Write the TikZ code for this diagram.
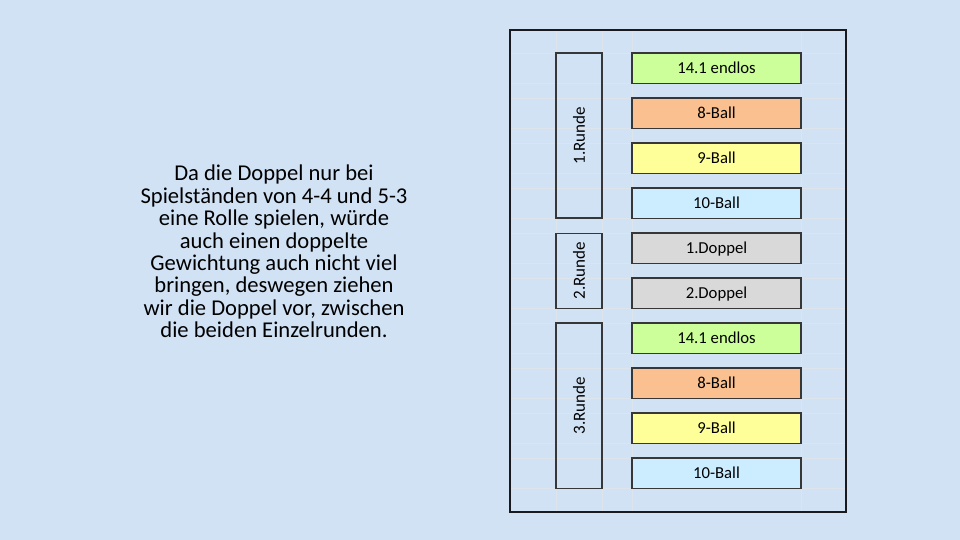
\documentclass[tikz,border=0pt]{standalone}
\usepackage{fontspec}
\setmainfont{Carlito}
\definecolor{bgblue}{RGB}{209,226,245}
\definecolor{gridc}{RGB}{221,228,236}
\definecolor{framec}{RGB}{25,25,30}
\definecolor{edgec}{RGB}{55,55,55}
\definecolor{cgreen}{RGB}{204,255,153}
\definecolor{corange}{RGB}{250,192,144}
\definecolor{cyellow}{RGB}{255,255,153}
\definecolor{clblue}{RGB}{204,236,255}
\definecolor{cgrey}{RGB}{217,217,217}
\tikzset{
  gamebox/.style={draw=edgec, line width=1.3pt, minimum width=169pt, minimum height=30.5pt, inner sep=0pt, text height=10.2pt, text depth=0pt, font=\fontsize{16.7}{20}\selectfont},
  rundebox/.style={draw=edgec, line width=1.3pt, minimum width=46pt, inner sep=0pt, font=\fontsize{17}{20}\selectfont},
  gridline/.style={draw=gridc, line width=0.8pt}
}
\begin{document}
\begin{tikzpicture}[x=1pt,y=-1pt]
\fill[bgblue] (0,0) rectangle (960,540);
\useasboundingbox (0,0) rectangle (960,540);
% faint cell grid inside the frame
\foreach \yy in {53,83.5,98,128.5,143,173.5,188,218.5,233,263.5,278,308.5,323,353.5,368,398.5,413,443.5,458,488.5}
  \draw[gridline] (511,\yy) -- (845,\yy);
\foreach \xx in {556,602,632,801}
  \draw[gridline] (\xx,31) -- (\xx,511);
% outer frame
\node[draw=framec, line width=2pt, minimum width=336pt, minimum height=482pt, inner sep=0pt] (frame) at (678,271) {};
% Runde boxes
\node[rundebox, minimum height=165pt] (r1) at (579,135.5) {\rotatebox{90}{1.Runde}};
\node[rundebox, minimum height=75pt] (r2) at (579,270.75) {\rotatebox{90}{2.Runde}};
\node[rundebox, minimum height=165.5pt] (r3) at (579,405.75) {\rotatebox{90}{3.Runde}};
% game boxes
\node[gamebox, fill=cgreen]  (g1)  at (716.5,68.25)  {14.1 endlos};
\node[gamebox, fill=corange] (g2)  at (716.5,113.25) {8-Ball};
\node[gamebox, fill=cyellow] (g3)  at (716.5,158.25) {9-Ball};
\node[gamebox, fill=clblue]  (g4)  at (716.5,203.25) {10-Ball};
\node[gamebox, fill=cgrey]   (g5)  at (716.5,248.25) {1.Doppel};
\node[gamebox, fill=cgrey]   (g6)  at (716.5,293.25) {2.Doppel};
\node[gamebox, fill=cgreen]  (g7)  at (716.5,338.25) {14.1 endlos};
\node[gamebox, fill=corange] (g8)  at (716.5,383.25) {8-Ball};
\node[gamebox, fill=cyellow] (g9)  at (716.5,428.25) {9-Ball};
\node[gamebox, fill=clblue]  (g10) at (716.5,473.25) {10-Ball};
% left text
\node[align=center, inner sep=0pt, font=\fontsize{22.6}{22.4}\selectfont] (txt) at (274,251.5) {Da die Doppel nur bei\\Spielständen von 4-4 und 5-3\\eine Rolle spielen, würde\\auch einen doppelte\\Gewichtung auch nicht viel\\bringen, deswegen ziehen\\wir die Doppel vor, zwischen\\die beiden Einzelrunden.};
\end{tikzpicture}
\end{document}
